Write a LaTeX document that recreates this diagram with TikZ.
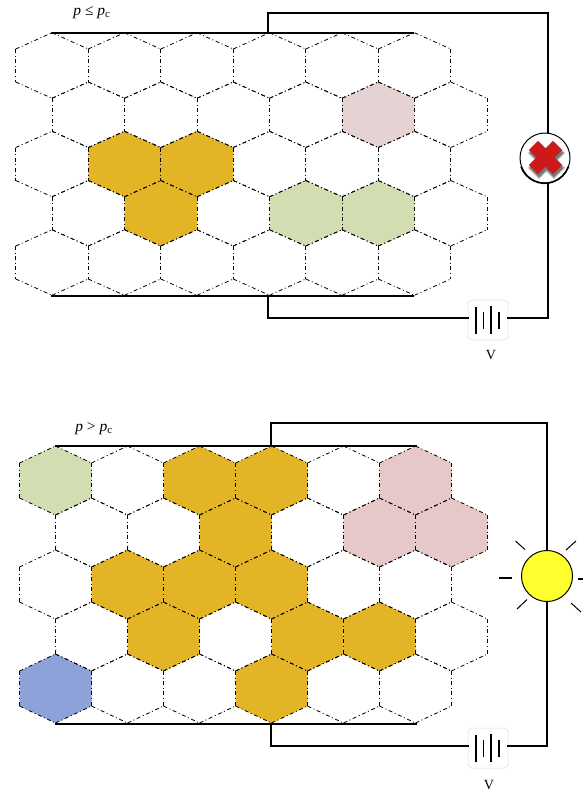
\documentclass[tikz,border=0pt]{standalone}
\usepackage{fontspec}
\setmainfont{Liberation Serif}
\definecolor{gold}{HTML}{E3B526}
\definecolor{sage}{HTML}{D2DDB2}
\definecolor{rosy}{HTML}{E5D2D2}
\definecolor{rosyb}{HTML}{E6C8C8}
\definecolor{cornf}{HTML}{8CA2D8}
\definecolor{lampy}{HTML}{FFFF2E}
\definecolor{crossred}{HTML}{CC1A1A}
\tikzset{
  x=1pt,y=-1pt,
  cellline/.style={line width=0.8pt,dash pattern=on 4pt off 2.6pt on 1pt off 2.6pt,draw=black},
  wire/.style={line width=1.6pt,draw=black,line cap=rect},
  ray/.style={line width=1pt,draw=black},
  battbox/.style={draw=black!14,line width=0.5pt,rounded corners=4pt,fill=white,minimum width=40pt,minimum height=40pt,inner sep=0pt},
  battbar/.style={line width=1.3pt,draw=black},
  lab/.style={font=\fontsize{15.5}{18}\selectfont,inner sep=0pt},
  volt/.style={font=\fontsize{14}{16}\selectfont,inner sep=0pt}
}
% #1 cx, #2 cy, #3 half width, #4 half side, #5 half height
\newcommand{\hexedges}[5]{%
  \draw[cellline] (#1-#3,#2-#4) -- (#1,#2-#5);
  \draw[cellline] (#1,#2-#5) -- (#1+#3,#2-#4);
  \draw[cellline] (#1-#3,#2+#4) -- (#1,#2+#5);
  \draw[cellline] (#1,#2+#5) -- (#1+#3,#2+#4);
  \draw[cellline] (#1-#3,#2-#4) -- (#1-#3,#2+#4);
  \draw[cellline] (#1+#3,#2-#4) -- (#1+#3,#2+#4);}
\newcommand{\hexfill}[6]{%
  \fill[#6] (#1,#2-#5) -- (#1+#3,#2-#4) -- (#1+#3,#2+#4) -- (#1,#2+#5) -- (#1-#3,#2+#4) -- (#1-#3,#2-#4) -- cycle;}
\newcommand{\topfill}[3]{\hexfill{#1}{#2}{36.25}{16.5}{32.75}{#3}}
\newcommand{\botfill}[3]{\hexfill{#1}{#2}{36}{17.5}{34.5}{#3}}
\newcommand{\battery}[3]{% name, cx, cy
  \node[battbox] (#1) at (#2,#3) {};
  \draw[battbar] (#2-12,#3-13.5) -- (#2-12,#3+13.5);
  \draw[battbar] (#2-4.5,#3-8.5) -- (#2-4.5,#3+8.5);
  \draw[battbar] (#2+3,#3-14) -- (#2+3,#3+14);
  \draw[battbar] (#2+11,#3-8.5) -- (#2+11,#3+8.5);}
\begin{document}
\begin{tikzpicture}
\useasboundingbox (0,0) rectangle (583,793);
% ---------- upper grid fills
\topfill{378.25}{114.75}{rosy}
\topfill{124.5}{164}{gold}
\topfill{197}{164}{gold}
\topfill{160.75}{213.25}{gold}
\topfill{305.75}{213.25}{sage}
\topfill{378.25}{213.25}{sage}
% ---------- upper grid edges
\foreach \y in {65.5,164,262.5}
  \foreach \i in {0,...,5}
    {\pgfmathsetmacro{\cx}{52+72.5*\i}\hexedges{\cx}{\y}{36.25}{16.5}{32.75}}
\foreach \y in {114.75,213.25}
  \foreach \i in {0,...,5}
    {\pgfmathsetmacro{\cx}{88.25+72.5*\i}\hexedges{\cx}{\y}{36.25}{16.5}{32.75}}
% ---------- lower grid fills
\botfill{55.5}{480.5}{sage}
\botfill{199.5}{480.5}{gold}
\botfill{271.5}{480.5}{gold}
\botfill{415.5}{480.5}{rosyb}
\botfill{235.5}{532.5}{gold}
\botfill{379.5}{532.5}{rosyb}
\botfill{451.5}{532.5}{rosyb}
\botfill{127.5}{584.5}{gold}
\botfill{199.5}{584.5}{gold}
\botfill{271.5}{584.5}{gold}
\botfill{163.5}{636.5}{gold}
\botfill{307.5}{636.5}{gold}
\botfill{379.5}{636.5}{gold}
\botfill{55.5}{688.5}{cornf}
\botfill{271.5}{688.5}{gold}
% ---------- lower grid edges
\foreach \y in {480.5,584.5,688.5}
  \foreach \i in {0,...,5}
    {\pgfmathsetmacro{\cx}{55.5+72*\i}\hexedges{\cx}{\y}{36}{17.5}{34.5}}
\foreach \y in {532.5,636.5}
  \foreach \i in {0,...,5}
    {\pgfmathsetmacro{\cx}{91.5+72*\i}\hexedges{\cx}{\y}{36}{17.5}{34.5}}
% ---------- upper circuit
\coordinate (aTL) at (52,33);
\coordinate (aTR) at (413,33);
\coordinate (aTJ) at (268,33);
\coordinate (aBL) at (52,296);
\coordinate (aBR) at (413,296);
\coordinate (aBJ) at (268,296);
\coordinate (aC1) at (268,13);
\coordinate (aC2) at (548,13);
\coordinate (aC3) at (548,318);
\coordinate (aC4) at (268,318);
\battery{battA}{488}{320}
\draw[wire] (aTL) -- (aTR);
\draw[wire] (aBL) -- (aBR);
\draw[wire] (aTJ) -- (aC1) -- (aC2) -- (548,135);
\draw[wire] (548,183) -- (aC3) -- (battA.east |- aC3);
\draw[wire] (battA.west |- aC3) -- (aC4) -- (aBJ);
% broken lamp
\node[circle,draw=black,line width=1pt,fill=white,minimum size=50pt,inner sep=0pt] (lampA) at (545,158) {};
\draw[line width=1.6pt,draw=black] (lampA.200) arc[start angle=160,end angle=20,radius=25.2];
\begin{scope}[shift={(546.5,160.5)},rotate=45]
  \foreach \o/\g in {0.10/1.8,0.14/1.2,0.18/0.6,0.25/0}
    \fill[black,opacity=\o] (-6.5-\g,-17-\g) rectangle (6.5+\g,17+\g) (-17-\g,-6.5-\g) rectangle (17+\g,6.5+\g);
\end{scope}
\begin{scope}[shift={(545.5,157.5)},rotate=45]
  \fill[crossred] (-6.5,-17) -- (6.5,-17) -- (6.5,-6.5) -- (17,-6.5) -- (17,6.5) -- (6.5,6.5) -- (6.5,17) -- (-6.5,17) -- (-6.5,6.5) -- (-17,6.5) -- (-17,-6.5) -- (-6.5,-6.5) -- cycle;
\end{scope}
\node[volt] (labA) at (491,355.5) {V};
\node[lab] (pA) at (92,13) {\textit{p} ≤ \textit{p}\textsubscript{c}};
% ---------- lower circuit
\coordinate (bTL) at (56,446);
\coordinate (bTR) at (416,446);
\coordinate (bTJ) at (271,446);
\coordinate (bBL) at (56,724);
\coordinate (bBR) at (416,724);
\coordinate (bBJ) at (271,724);
\coordinate (bC1) at (271,423);
\coordinate (bC2) at (547,423);
\coordinate (bC3) at (547,746);
\coordinate (bC4) at (271,746);
\battery{battB}{488}{748}
\draw[wire] (bTL) -- (bTR);
\draw[wire] (bBL) -- (bBR);
\draw[wire] (bTJ) -- (bC1) -- (bC2) -- (547,552);
\draw[wire] (547,600) -- (bC3) -- (battB.east |- bC3);
\draw[wire] (battB.west |- bC3) -- (bC4) -- (bBJ);
\node[circle,draw=black,line width=1pt,fill=lampy,minimum size=51pt,inner sep=0pt] (lampB) at (547,576) {};
\draw[ray,line width=1.4pt] (499,578) -- (512,578);
\draw[ray,line width=1.4pt] (578,579) -- (583,579);
\draw[ray] (515.5,541) -- (525,549.5);
\draw[ray] (576,541) -- (566,550);
\draw[ray] (527,599.5) -- (517,609);
\draw[ray] (571,603) -- (581,612);
\node[volt] (labB) at (489,785.5) {V};
\node[lab] (pB) at (94,429) {\textit{p} > \textit{p}\textsubscript{c}};
\end{tikzpicture}
\end{document}
